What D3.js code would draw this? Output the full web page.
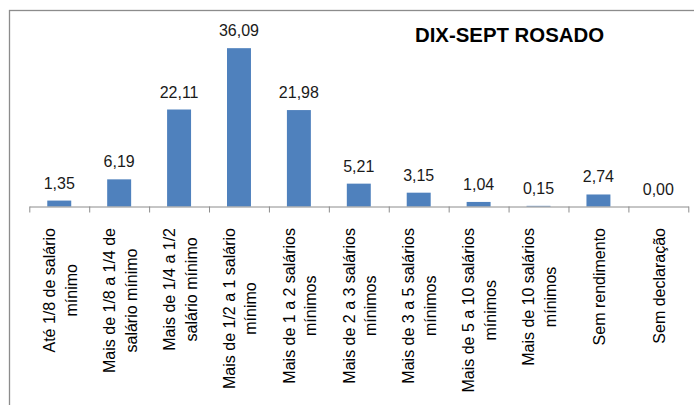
<!DOCTYPE html>
<html>
<head>
<meta charset="utf-8">
<script src="https://d3js.org/d3.v7.min.js"></script>
<style>
  body { margin: 0; background: #fff; }
  svg { display: block; font-family: "Liberation Sans", Arial, sans-serif; }
</style>
</head>
<body>
<div id="chart"></div>
<script>
// category labels, already split into lines as in the original
var categories = [
    ["Até 1/8 de salário", "mínimo"],
    ["Mais de 1/8 a 1/4 de", "salário mínimo"],
    ["Mais de 1/4 a 1/2", "salário mínimo"],
    ["Mais de 1/2 a 1 salário", "mínimo"],
    ["Mais de 1 a 2 salários", "mínimos"],
    ["Mais de 2 a 3 salários", "mínimos"],
    ["Mais de 3 a 5 salários", "mínimos"],
    ["Mais de 5 a 10 salários", "mínimos"],
    ["Mais de 10 salários", "mínimos"],
    ["Sem rendimento"],
    ["Sem declaração"]
];
var values = [1.35, 6.19, 22.11, 36.09, 21.98, 5.21, 3.15, 1.04, 0.15, 2.74, 0.00];
var title = "DIX-SEPT ROSADO";

var width = 694,
    height = 405;

var svg = d3.select("#chart")
    .append("svg")
    .attr("width", width)
    .attr("height", height);

// chart frame (runs off the right and bottom edge like the original)
svg.append("rect")
    .attr("x", 9.5)
    .attr("y", 10.5)
    .attr("width", 720)
    .attr("height", 430)
    .attr("fill", "#fff")
    .attr("stroke", "#8c8c8c")
    .attr("stroke-width", 1.3);

var left = 29.3, right = 688.3, base = 206.5;

var x = d3.scaleBand()
    .domain(d3.range(values.length))
    .range([left, right]);

var xEdge = d3.scaleLinear()
    .domain([0, values.length])
    .range([left, right]);

var y = d3.scaleLinear()
    .domain([0, 40])
    .range([base, base - 40 * 4.387]);

// bars
var bw = x.bandwidth() * 0.4;
svg.append("g")
    .selectAll("rect")
    .data(values)
    .enter().append("rect")
    .attr("x", function(d, i) { return x(i) + (x.bandwidth() - bw) / 2; })
    .attr("y", function(d) { return y(d); })
    .attr("width", bw)
    .attr("height", function(d) { return y(0) - y(d); })
    .attr("fill", "#4f81bd");

// axis with ticks on category boundaries
var axis = svg.append("g")
    .attr("transform", "translate(0," + base + ")")
    .call(d3.axisBottom(xEdge)
        .tickValues(d3.range(values.length + 1))
        .tickSize(6)
        .tickSizeOuter(0)
        .tickFormat(""));
axis.selectAll("path, line").attr("stroke", "#8c8c8c");

// value labels
svg.append("g")
    .selectAll("text")
    .data(values)
    .enter().append("text")
    .attr("x", function(d, i) { return x(i) + x.bandwidth() / 2; })
    .attr("y", function(d) { return y(d) - 12; })
    .attr("text-anchor", "middle")
    .attr("font-size", 16)
    .attr("fill", "#1a1a1a")
    .text(function(d) { return d.toFixed(2).replace(".", ","); });

// rotated category labels
var lineGap = 21.7, labelTop = 228;
var cat = svg.append("g")
    .selectAll("g")
    .data(categories)
    .enter().append("g");

cat.each(function(lines, i) {
    var g = d3.select(this);
    var t = g.append("text")
        .attr("text-anchor", "middle")
        .attr("font-size", 16)
        .attr("fill", "#000");
    t.selectAll("tspan")
        .data(lines)
        .enter().append("tspan")
        .attr("x", 0)
        .attr("y", function(d, j) { return 6.6 + (j - (lines.length - 1) / 2) * lineGap; })
        .text(function(d) { return d; });
    var maxLen = 0;
    t.selectAll("tspan").each(function() {
        maxLen = Math.max(maxLen, this.getComputedTextLength());
    });
    g.attr("transform", "translate(" + (x(i) + x.bandwidth() / 2) + "," + (labelTop + maxLen / 2) + ") rotate(-90)");
});

// title
svg.append("text")
    .attr("x", 415)
    .attr("y", 41.7)
    .attr("font-size", 20)
    .attr("font-weight", "bold")
    .attr("textLength", 189)
    .attr("lengthAdjust", "spacingAndGlyphs")
    .text(title);
</script>
</body>
</html>
